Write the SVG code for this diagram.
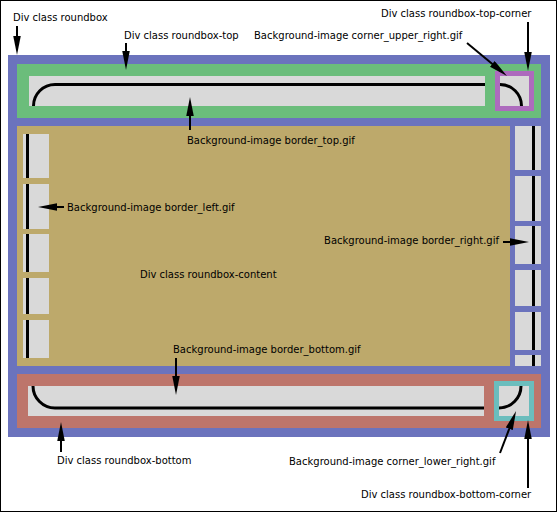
<svg xmlns="http://www.w3.org/2000/svg" width="558" height="513" viewBox="0 0 558 513">
<style>
text{font-family:"DejaVu Sans","Liberation Sans",sans-serif;font-size:10px;fill:#000}
.gray{fill:#d9d9d9}
.blk{fill:none;stroke:#000;stroke-width:3}
.arr{fill:none;stroke:#000;stroke-width:2;marker-end:url(#ah)}
</style>
<defs>
<marker id="ah" markerUnits="userSpaceOnUse" markerWidth="20" markerHeight="8" refX="11" refY="3.75" orient="auto" viewBox="0 0 20 8">
<path d="M0,0 L19,3.75 L0,7.5 z" fill="#000"/>
</marker>
</defs>
<rect x="0.5" y="0.5" width="556" height="511" fill="#fff" stroke="#000" stroke-width="1"/>
<g id="roundbox">
<rect x="8" y="55" width="542" height="382" fill="#6b73bd"/>
</g>
<g id="roundbox-top">
<rect x="17" y="64" width="524" height="54" fill="#6bbd7b"/>
<rect class="gray" x="29" y="76" width="456" height="30"/>
<path class="blk" d="M33.5,106 A21.5,21.5 0 0 1 55,84.5 H485"/>
</g>
<g id="roundbox-top-corner">
<rect x="495" y="71" width="39" height="40" fill="#ad6bbd"/>
<rect class="gray" x="500" y="76" width="29" height="30"/>
<path class="blk" d="M500,84.5 A21.5,21.5 0 0 1 521.5,106"/>
</g>
<g id="roundbox-content">
<rect x="17" y="126" width="493" height="240" fill="#bda96b"/>
</g>
<g id="border-left">
<rect class="gray" x="23" y="134" width="26" height="44"/>
<rect class="gray" x="23" y="184" width="26" height="45"/>
<rect class="gray" x="23" y="234" width="26" height="38"/>
<rect class="gray" x="23" y="278" width="26" height="36"/>
<rect class="gray" x="23" y="320" width="26" height="38"/>
<path class="blk" d="M27.5,134 V178 M27.5,184 V229 M27.5,234 V272 M27.5,278 V314 M27.5,320 V358"/>
</g>
<g id="border-right">
<rect class="gray" x="515" y="126" width="26" height="44"/>
<rect class="gray" x="515" y="176" width="26" height="45"/>
<rect class="gray" x="515" y="226" width="26" height="38"/>
<rect class="gray" x="515" y="270" width="26" height="36"/>
<rect class="gray" x="515" y="312" width="26" height="38"/>
<rect class="gray" x="515" y="355" width="26" height="11"/>
<path class="blk" d="M533.5,126 V170 M533.5,176 V221 M533.5,226 V264 M533.5,270 V306 M533.5,312 V350 M533.5,355 V366"/>
</g>
<g id="roundbox-bottom">
<rect x="17" y="374" width="524" height="54" fill="#bd756b"/>
<rect class="gray" x="28" y="386" width="456" height="30"/>
<path class="blk" d="M33,386 A22,22 0 0 0 55,408 H484"/>
</g>
<g id="roundbox-bottom-corner">
<rect x="494" y="381" width="40" height="40" fill="#6bbdbd"/>
<rect class="gray" x="499" y="386" width="30" height="30"/>
<path class="blk" d="M521,386 A22,22 0 0 1 499,408"/>
</g>
<g id="labels">
<text x="13" y="21">Div class roundbox</text>
<text x="124" y="39">Div class roundbox-top</text>
<text x="254" y="39">Background-image corner_upper_right.gif</text>
<text x="381" y="17">Div class roundbox-top-corner</text>
<text x="187" y="144">Background-image border_top.gif</text>
<text x="67" y="211">Background-image border_left.gif</text>
<text x="140" y="278">Div class roundbox-content</text>
<text x="499" y="244" text-anchor="end">Background-image border_right.gif</text>
<text x="173" y="353">Background-image border_bottom.gif</text>
<text x="57" y="464">Div class roundbox-bottom</text>
<text x="289" y="465">Background-image corner_lower_right.gif</text>
<text x="361" y="498">Div class roundbox-bottom-corner</text>
</g>
<g id="connectors">
<path class="arr" d="M17,26 V47"/>
<path class="arr" d="M126,43 V62"/>
<path class="arr" d="M467,43 L500.8,70.9"/>
<path class="arr" d="M528,22 V63"/>
<path class="arr" d="M190,130 V105"/>
<path class="arr" d="M64,207 H46"/>
<path class="arr" d="M503,242 H521"/>
<path class="arr" d="M176,358 V387"/>
<path class="arr" d="M61,452 V430"/>
<path class="arr" d="M500,453 L513.2,418.5"/>
<path class="arr" d="M528,488 V428"/>
</g>
</svg>
